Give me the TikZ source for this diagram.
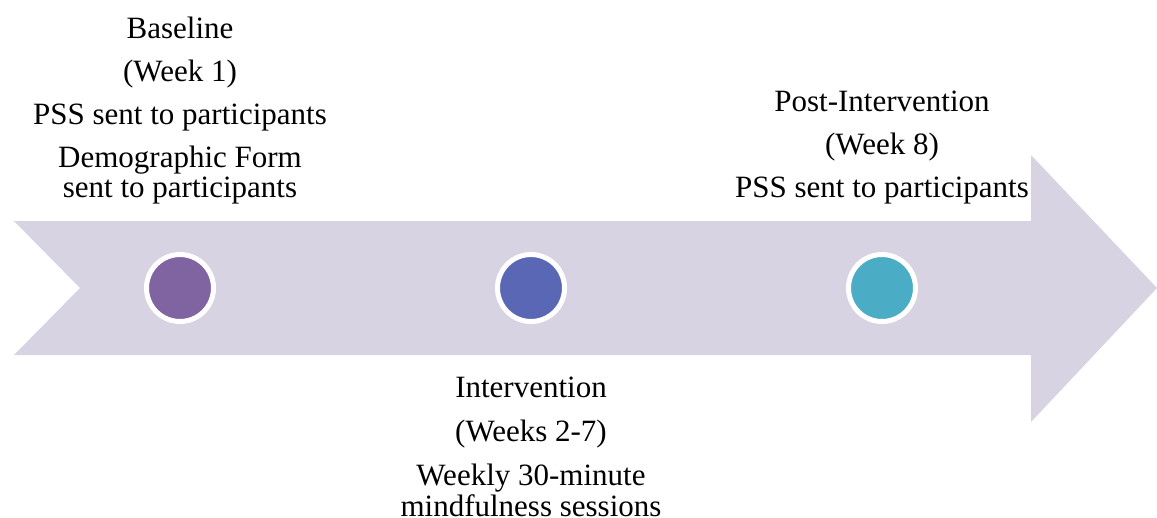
\documentclass[tikz,border=0pt]{standalone}
\usepackage{fontspec}
\setmainfont{Liberation Serif}
\usetikzlibrary{positioning}
\definecolor{arrowfill}{HTML}{D7D3E2}
\definecolor{phaseA}{HTML}{8064A2}
\definecolor{phaseB}{HTML}{5A67B4}
\definecolor{phaseC}{HTML}{4BACC6}
\tikzset{
  milestone/.style={circle, draw=white, line width=5pt, minimum size=67pt, inner sep=0pt},
  phasetext/.style={align=center, inner sep=0pt, font=\fontsize{31}{30}\selectfont}
}

\begin{document}
\begin{tikzpicture}[x=1pt,y=1pt]
  \useasboundingbox (0,0) rectangle (1157,-517);

  % timeline arrow
  \fill[arrowfill] (14,-221) -- (1031,-221) -- (1031,-155) -- (1157,-288)
    -- (1031,-422) -- (1031,-355) -- (14,-355) -- (80,-288) -- cycle;

  % milestones
  \foreach \name/\xx/\col in {baseline/180/phaseA,intervention/531/phaseB,post/882/phaseC}
    \node[milestone, fill=\col] (\name) at (\xx,-288) {};

  % phase texts
  \node[phasetext, anchor=north] (baselinetext) at (180,-16.5)
    {Baseline\\[13pt](Week 1)\\[13pt]PSS sent to participants\\[13pt]Demographic Form\\sent to participants};
  \node[phasetext, anchor=north] (posttext) at (882,-91)
    {Post-Intervention\\[13pt](Week 8)\\[13pt]PSS sent to participants};
  \node[phasetext, anchor=north] (interventiontext) at (531,-376.5)
    {Intervention\\[14pt](Weeks 2-7)\\[14pt]Weekly 30-minute\\[1pt]mindfulness sessions};
\end{tikzpicture}
\end{document}
